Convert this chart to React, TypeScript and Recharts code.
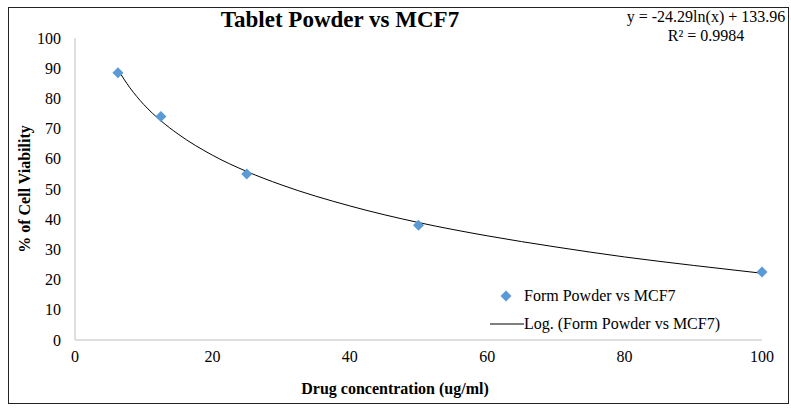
import {
  ComposedChart, Scatter, Line,
  XAxis, YAxis,
} from "recharts";

// measured points
const conc = [6.25, 12.5, 25, 50, 100];
const viability = [88.5, 74, 55, 38, 22.5];

// log trendline
const trendX = [6.25, 8, 10, 12.5, 15, 20, 25, 30, 40, 50, 60, 70, 80, 90, 100];
const trendY = [89.5, 83.5, 78, 72.6, 68.2, 61.2, 55.8, 51.4, 44.4, 38.9, 34.5, 30.8, 27.5, 24.7, 22.1];

const xTicks = [0, 20, 40, 60, 80, 100];
const yTicks = [0, 10, 20, 30, 40, 50, 60, 70, 80, 90, 100];

const points = conc.map((x, i) => ({ x, y: viability[i] }));
const trend = trendX.map((x, i) => ({ x, t: trendY[i] }));

const FONT = "'Liberation Serif', 'Times New Roman', serif";
const BLUE = "#5B9BD5";

function Diamond(props: any) {
  const { cx, cy } = props;
  const r = 5.5;
  return (
    <polygon
      points={`${cx},${cy - r} ${cx + r},${cy} ${cx},${cy + r} ${cx - r},${cy}`}
      fill={BLUE}
    />
  );
}

export default function App() {
  return (
    <div style={{
      position: "absolute", left: 0, top: 0,
      width: 791, height: 408, background: "#fff", fontFamily: FONT,
    }}>
      {/* frame */}
      <div style={{
        position: "absolute", left: 8, top: 7,
        width: 779, height: 395, border: "1px solid #222",
      }} />

      {/* title */}
      <div style={{
        position: "absolute", left: 140, width: 400, top: 7,
        textAlign: "center", fontWeight: "bold", fontSize: 23,
      }}>Tablet Powder vs MCF7</div>

      {/* trendline equation */}
      <div style={{
        position: "absolute", left: 606, width: 200, top: 7,
        textAlign: "center", fontSize: 16, lineHeight: "19px",
      }}>
        y = -24.29ln(x) + 133.96<br />R² = 0.9984
      </div>

      {/* y axis title */}
      <div style={{
        position: "absolute", left: 25, top: 189, whiteSpace: "nowrap",
        transform: "translate(-50%, -50%) rotate(-90deg)",
        fontWeight: "bold", fontSize: 16,
      }}>% of Cell Viability</div>

      {/* x axis title */}
      <div style={{
        position: "absolute", left: 195, width: 400, top: 380,
        textAlign: "center", fontWeight: "bold", fontSize: 16,
      }}>Drug concentration (ug/ml)</div>

      <div style={{ position: "absolute", left: 0, top: 0 }}>
        <ComposedChart
          width={791} height={408}
          margin={{ top: 38, right: 29, bottom: 0, left: 15 }}
          style={{ fontFamily: FONT }}
        >
          <XAxis
            type="number" dataKey="x"
            domain={[0, 100]} ticks={xTicks}
            allowDuplicatedCategory={false}
            stroke="#bfbfbf" tickLine={false}
            height={68} tickMargin={5}
            tick={{ fontSize: 16, fill: "#000", fontFamily: FONT }}
          />
          <YAxis
            type="number"
            domain={[0, 100]} ticks={yTicks}
            stroke="#bfbfbf" tickLine={false}
            width={60} tickMargin={8}
            tick={{ fontSize: 16, fill: "#000", fontFamily: FONT }}
          />
          <Line
            data={trend} dataKey="t" type="monotone"
            stroke="#000" strokeWidth={1} dot={false}
            isAnimationActive={false} legendType="none"
          />
          <Scatter
            data={points} dataKey="y"
            shape={<Diamond />}
            isAnimationActive={false}
          />
        </ComposedChart>
      </div>

      {/* legend */}
      <div style={{ position: "absolute", left: 488, top: 282, fontSize: 16, color: "#000" }}>
        <div style={{ display: "flex", alignItems: "center", height: 28 }}>
          <svg width={36} height={12}>
            <polygon points="18,0.5 23.5,6 18,11.5 12.5,6" fill={BLUE} />
          </svg>
          <span>Form Powder vs MCF7</span>
        </div>
        <div style={{ display: "flex", alignItems: "center", height: 28 }}>
          <svg width={36} height={12}>
            <line x1={2} y1={6} x2={36} y2={6} stroke="#000" strokeWidth={1} />
          </svg>
          <span>Log. (Form Powder vs MCF7)</span>
        </div>
      </div>
    </div>
  );
}
